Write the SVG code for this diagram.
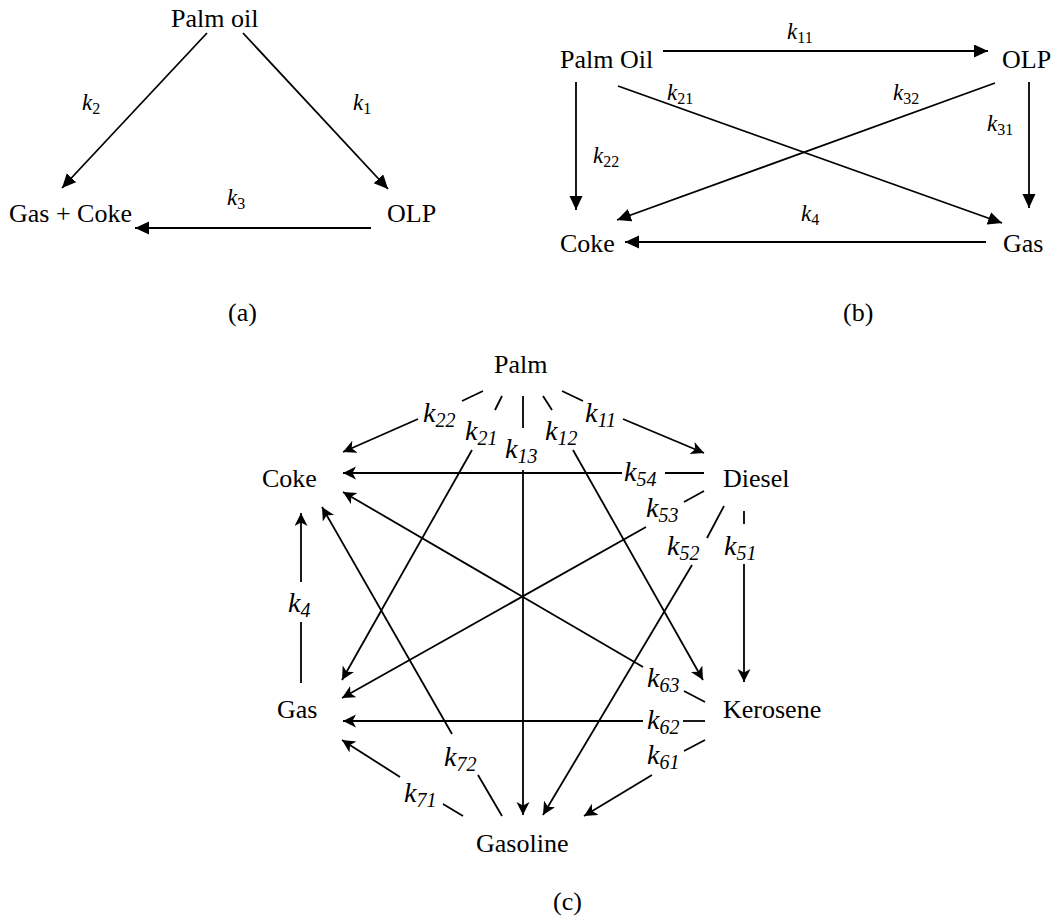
<svg xmlns="http://www.w3.org/2000/svg" width="1054" height="920" viewBox="0 0 1054 920">
<style>
text{font-family:'Liberation Serif','DejaVu Serif','Times New Roman',serif;fill:#000}
.n{font-size:26px}
.ka{font-size:23px;font-style:italic}
.ka .s{font-size:16px;font-style:normal}
.kc{font-size:28px;font-style:italic}
.kc .s{font-size:20px;font-style:italic}
.e{stroke:#000;stroke-width:1.8;fill:none}
.ea{marker-end:url(#tri)}
.ec{marker-end:url(#stl)}
</style>
<defs>
<marker id="tri" markerUnits="userSpaceOnUse" markerWidth="16" markerHeight="14" refX="14" refY="6.5" orient="auto">
<path d="M0,0 L14,6.5 L0,13 Z" fill="#000"/>
</marker>
<marker id="stl" markerUnits="userSpaceOnUse" markerWidth="15" markerHeight="14" refX="13" refY="6.5" orient="auto">
<path d="M0,0 L13,6.5 L0,13 L3.5,6.5 Z" fill="#000"/>
</marker>
</defs>
<rect width="1054" height="920" fill="#fff"/>

<!-- (a) -->
<g id="a-palm"><text class="n" x="171" y="27">Palm oil</text></g>
<g id="a-gascoke"><text class="n" x="9" y="222">Gas + Coke</text></g>
<g id="a-olp"><text class="n" x="387" y="222">OLP</text></g>
<g id="a-connectors">
<path class="e ea" d="M207,33 L62,188"/>
<path class="e ea" d="M243,33 L388,189"/>
<path class="e ea" d="M371,228 L135,228"/>
<text class="ka" x="82" y="110">k<tspan class="s" dy="4">2</tspan></text>
<text class="ka" x="353" y="110">k<tspan class="s" dy="4">1</tspan></text>
<text class="ka" x="227" y="205">k<tspan class="s" dy="4">3</tspan></text>
</g>
<text class="n" x="228" y="321">(a)</text>

<!-- (b) -->
<g id="b-palm"><text class="n" x="560" y="68">Palm Oil</text></g>
<g id="b-olp"><text class="n" x="1002" y="68">OLP</text></g>
<g id="b-coke"><text class="n" x="560" y="252">Coke</text></g>
<g id="b-gas"><text class="n" x="1003" y="252">Gas</text></g>
<g id="b-connectors">
<path class="e ea" d="M663,51 L988,51"/>
<path class="e ea" d="M576,82 L576,210"/>
<path class="e ea" d="M618,86 L1002,223"/>
<path class="e ea" d="M995,83 L617,220"/>
<path class="e ea" d="M1029,82 L1029,208"/>
<path class="e ea" d="M986,242 L625,242"/>
<text class="ka" x="787" y="39">k<tspan class="s" dy="4">11</tspan></text>
<text class="ka" x="667" y="100">k<tspan class="s" dy="4">21</tspan></text>
<text class="ka" x="893" y="100">k<tspan class="s" dy="4">32</tspan></text>
<text class="ka" x="593" y="163">k<tspan class="s" dy="4">22</tspan></text>
<text class="ka" x="987" y="131">k<tspan class="s" dy="4">31</tspan></text>
<text class="ka" x="801" y="221">k<tspan class="s" dy="4">4</tspan></text>
</g>
<text class="n" x="843" y="321">(b)</text>

<!-- (c) -->
<g id="c-palm"><text class="n" x="494" y="373">Palm</text></g>
<g id="c-coke"><text class="n" x="262" y="487">Coke</text></g>
<g id="c-diesel"><text class="n" x="723" y="487">Diesel</text></g>
<g id="c-gas"><text class="n" x="277" y="718">Gas</text></g>
<g id="c-kerosene"><text class="n" x="723" y="718">Kerosene</text></g>
<g id="c-gasoline"><text class="n" x="476" y="852">Gasoline</text></g>
<g id="c-connectors">
<path class="e" d="M483,391 L462,401"/><path class="e ec" d="M418,419 L343,452"/>
<text class="kc" x="423" y="422">k<tspan class="s" dy="5">22</tspan></text>
<path class="e" d="M502,396 L495,410"/><path class="e ec" d="M472,450 L342,680"/>
<text class="kc" x="465" y="440">k<tspan class="s" dy="5">21</tspan></text>
<path class="e" d="M523,396 L523,428"/><path class="e ec" d="M523,470 L523,815"/>
<text class="kc" x="505" y="458">k<tspan class="s" dy="5">13</tspan></text>
<path class="e" d="M543,396 L552,410"/><path class="e ec" d="M573,450 L703,680"/>
<text class="kc" x="545" y="440">k<tspan class="s" dy="5">12</tspan></text>
<path class="e" d="M562,391 L583,401"/><path class="e ec" d="M623,419 L704,453"/>
<text class="kc" x="585" y="422">k<tspan class="s" dy="5">11</tspan></text>
<path class="e" d="M704,473 L665,473"/><path class="e ec" d="M622,473 L343,473"/>
<text class="kc" x="624" y="481">k<tspan class="s" dy="5">54</tspan></text>
<path class="e" d="M704,491 L684,502"/><path class="e ec" d="M646,527 L342,698"/>
<text class="kc" x="646" y="517">k<tspan class="s" dy="5">53</tspan></text>
<path class="e" d="M724,506 L707,538"/><path class="e ec" d="M692,565 L543,815"/>
<text class="kc" x="667" y="555">k<tspan class="s" dy="5">52</tspan></text>
<path class="e" d="M744,511 L744,524"/><path class="e ec" d="M744,564 L744,682"/>
<text class="kc" x="724" y="555">k<tspan class="s" dy="5">51</tspan></text>
<path class="e" d="M705,702 L684,691"/><path class="e ec" d="M643,667 L343,492"/>
<text class="kc" x="647" y="687">k<tspan class="s" dy="5">63</tspan></text>
<path class="e" d="M705,721 L683,721"/><path class="e ec" d="M643,721 L343,721"/>
<text class="kc" x="647" y="729">k<tspan class="s" dy="5">62</tspan></text>
<path class="e" d="M705,740 L684,751"/><path class="e ec" d="M652,775 L584,816"/>
<text class="kc" x="647" y="764">k<tspan class="s" dy="5">61</tspan></text>
<path class="e" d="M301,683 L301,622"/><path class="e ec" d="M301,582 L301,513"/>
<text class="kc" x="288" y="612">k<tspan class="s" dy="5">4</tspan></text>
<path class="e" d="M502,816 L478,775"/><path class="e ec" d="M452,734 L322,507"/>
<text class="kc" x="444" y="766">k<tspan class="s" dy="5">72</tspan></text>
<path class="e" d="M463,816 L443,804"/><path class="e ec" d="M400,777 L342,740"/>
<text class="kc" x="404" y="802">k<tspan class="s" dy="5">71</tspan></text>
</g>
<text class="n" x="553" y="910">(c)</text>
</svg>
